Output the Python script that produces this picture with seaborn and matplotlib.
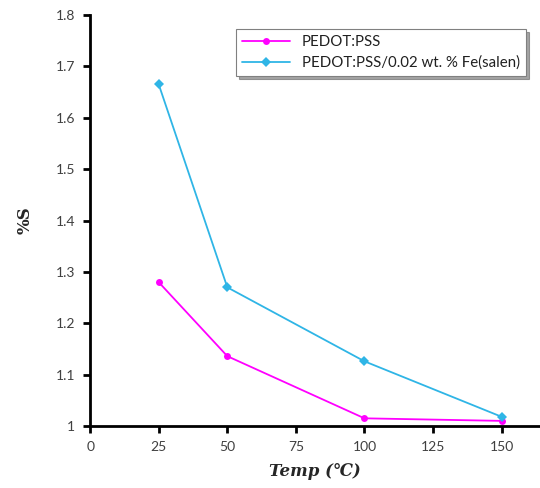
import pandas as pd
import seaborn as sns
import matplotlib.pyplot as plt
import matplotlib.ticker as mtick

#%% Data
temp = [25, 50, 100, 150]
s_pedot = [1.28, 1.136, 1.015, 1.01]
s_fe = [1.665, 1.27, 1.126, 1.018]
series_names = ["PEDOT:PSS", "PEDOT:PSS/0.02 wt. % Fe(salen)"]
x_ticks = [0, 25, 50, 75, 100, 125, 150]
y_ticks = [1.0, 1.1, 1.2, 1.3, 1.4, 1.5, 1.6, 1.7, 1.8]

df = pd.DataFrame({
    "Temp": temp * 2,
    "S": s_pedot + s_fe,
    "Sample": [series_names[0]] * len(temp) + [series_names[1]] * len(temp),
})

#%% Style
sns.set_style("ticks")
plt.rcParams["font.family"] = ["Lato", "DejaVu Sans"]

fig = plt.figure(figsize=(5.4, 4.88), dpi=100)
ax = fig.add_axes([0.167, 0.127, 0.833, 0.842])

colors = {series_names[0]: "#ff00ff", series_names[1]: "#2fb5e6"}
markers = {series_names[0]: "o", series_names[1]: "D"}

sns.lineplot(
    data=df, x="Temp", y="S", hue="Sample", style="Sample",
    palette=colors, markers=markers, dashes=False,
    linewidth=1.3, markersize=5, markeredgewidth=0, ax=ax,
)

#%% Axes
ax.set_xlim(0, 164)
ax.set_ylim(1.0, 1.8)
ax.set_xticks(x_ticks)
ax.set_yticks(y_ticks)
ax.yaxis.set_major_formatter(mtick.FormatStrFormatter("%g"))
ax.tick_params(axis="both", direction="out", length=5, width=2,
               labelsize=10, colors="#000000", labelcolor="#404040", pad=6)
for side in ["top", "right"]:
    ax.spines[side].set_visible(False)
for side in ["left", "bottom"]:
    ax.spines[side].set_linewidth(2)
    ax.spines[side].set_color("black")

ax.set_xlabel("Temp (℃)", family="DejaVu Serif", fontsize=12,
              fontweight="bold", fontstyle="italic", labelpad=7)
ax.set_ylabel("%S", family="DejaVu Serif", fontsize=12,
              fontweight="bold", labelpad=16)

leg = ax.legend(loc="upper right", bbox_to_anchor=(0.985, 0.985),
                frameon=True, shadow=True, fancybox=False, fontsize=10.8,
                handlelength=3.2, borderpad=0.4, labelspacing=0.45)
leg.get_frame().set_edgecolor("#808080")
leg.get_frame().set_linewidth(0.8)
for t in leg.get_texts():
    t.set_color("#202020")

fig.savefig("out.png", dpi=100)
